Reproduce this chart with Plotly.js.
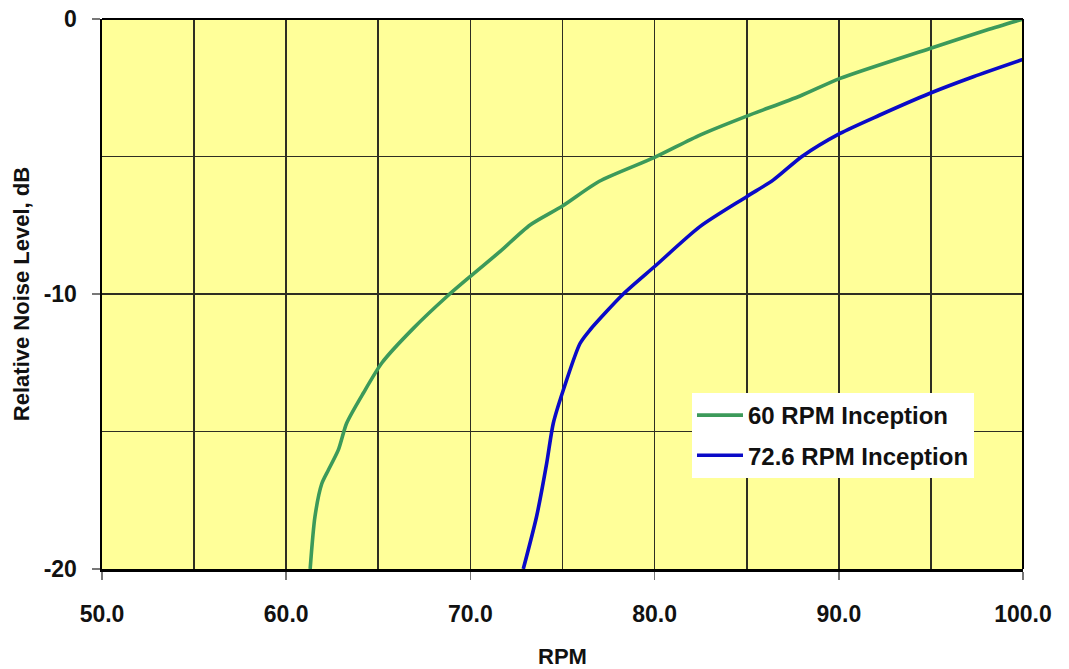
<!DOCTYPE html>
<html>
<head>
<meta charset="utf-8">
<script src="https://cdn.plot.ly/plotly-3.0.1.min.js"></script>
<style>html,body{margin:0;padding:0;background:#fff;}#chart{width:1069px;height:669px;}</style>
</head>
<body>
<div id="chart"></div>
<script>
// Data
const seriesNames = ["60 RPM Inception", "72.6 RPM Inception"];
const rpm60 = [61.3, 61.56, 61.93, 62.29, 62.83, 63.28, 64.19, 65.2, 66.9, 68.71, 69.98, 71.6, 73.24, 75.0, 77.0, 80.0, 82.46, 85.0, 87.9, 90.07, 94.95, 98.03, 100];
const noise60 = [-20, -18.1, -16.9, -16.4, -15.67, -14.7, -13.6, -12.5, -11.25, -10.1, -9.37, -8.46, -7.49, -6.8, -5.9, -5.03, -4.22, -3.53, -2.8, -2.16, -1.07, -0.4, 0];
const rpm72 = [72.87, 73.59, 74.14, 74.5, 75.04, 75.95, 76.5, 78.3, 80.0, 82.46, 85.0, 86.45, 88.0, 90.07, 92.2, 94.95, 97.3, 100];
const noise72 = [-20, -18.1, -16.16, -14.7, -13.5, -11.8, -11.3, -10.0, -9.0, -7.55, -6.46, -5.85, -5.0, -4.16, -3.5, -2.7, -2.1, -1.47];
const xTickVals = [50, 60, 70, 80, 90, 100];
const xTickText = ["50.0", "60.0", "70.0", "80.0", "90.0", "100.0"];
const yTickVals = [-20, -10, 0];
const yTickText = ["-20", "-10", "0"];

const FONT = "Liberation Sans, Arial, sans-serif";

const traces = [
  {x: rpm60, y: noise60, name: seriesNames[0], legendgroup: "a", mode: "lines",
   line: {color: "#3c9a5a", width: 3.6, shape: "spline", smoothing: 0.7}},
  {x: rpm72, y: noise72, name: seriesNames[1], legendgroup: "b", mode: "lines",
   line: {color: "#0a0ac8", width: 3.6, shape: "spline", smoothing: 0.7}}
];

const GRID = "#2e2e22";

const layout = {
  width: 1069, height: 669,
  margin: {l: 102, r: 46, t: 19, b: 100},
  paper_bgcolor: "#ffffff",
  plot_bgcolor: "#ffff99",
  font: {family: FONT, color: "#111111", size: 22, weight: "bold"},
  showlegend: true,
  legend: {
    x: 0.6406, y: 0.32, xanchor: "left", yanchor: "top",
    bgcolor: "#ffffff", borderwidth: 0,
    font: {family: FONT, size: 24, weight: "bold", color: "#111111"},
    itemwidth: 46, traceorder: "grouped", tracegroupgap: 6
  },
  xaxis: {
    range: [50, 100], tickvals: xTickVals, ticktext: xTickText,
    showgrid: true, gridcolor: GRID, gridwidth: 1.7,
    minor: {dtick: 5, tick0: 50, showgrid: true, gridcolor: GRID, gridwidth: 1.7},
    ticks: "outside", ticklen: 8, tickcolor: "#777777", tickwidth: 1.5,
    ticklabelstandoff: 14,
    showline: true, linecolor: "#000000", linewidth: 3, mirror: false,
    zeroline: false,
    tickfont: {family: FONT, size: 23, weight: "bold", color: "#111111"},
    title: {text: "RPM", font: {family: FONT, size: 22, weight: "bold", color: "#111111"}, standoff: 26}
  },
  yaxis: {
    range: [-20, 0], tickvals: yTickVals, ticktext: yTickText,
    showgrid: true, gridcolor: GRID, gridwidth: 1.7,
    minor: {dtick: 5, tick0: -20, showgrid: true, gridcolor: GRID, gridwidth: 1.7},
    ticks: "outside", ticklen: 8, tickcolor: "#777777", tickwidth: 1.5,
    ticklabelstandoff: 10,
    showline: true, linecolor: "#000000", linewidth: 2.5, mirror: false,
    zeroline: false,
    tickfont: {family: FONT, size: 23, weight: "bold", color: "#111111"},
    title: {text: "Relative Noise Level, dB", font: {family: FONT, size: 22, weight: "bold", color: "#111111"}, standoff: 8}
  },
  shapes: [
    {type: "line", xref: "paper", yref: "paper", x0: 0, x1: 1, y0: 1, y1: 1, line: {color: "#000000", width: 2}},
    {type: "line", xref: "paper", yref: "paper", x0: 1, x1: 1, y0: 0, y1: 1, line: {color: "#000000", width: 2}}
  ]
};

Plotly.newPlot("chart", traces, layout, {displayModeBar: false, staticPlot: true});
</script>
</body>
</html>
